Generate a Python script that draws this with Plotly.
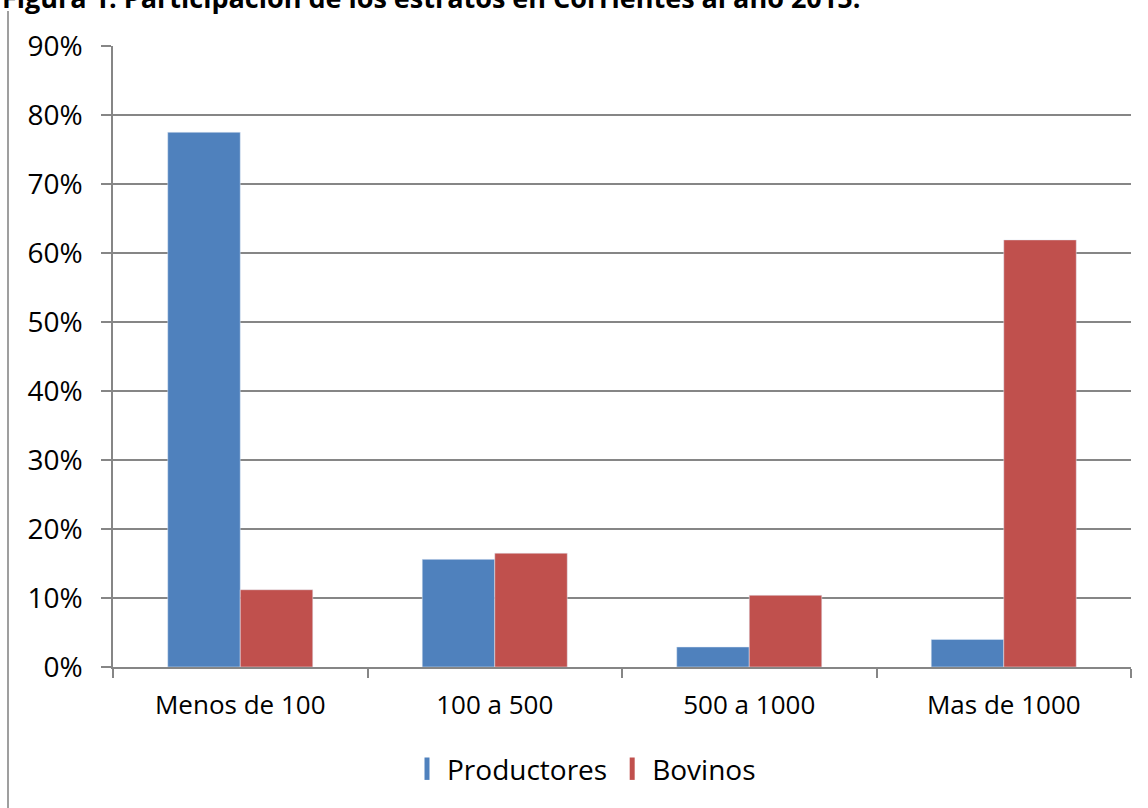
import plotly.graph_objects as go

categories = ["Menos de 100", "100 a 500", "500 a 1000", "Mas de 1000"]
productores = [0.775, 0.156, 0.029, 0.040]
bovinos = [0.112, 0.165, 0.104, 0.619]
series_names = ["Productores", "Bovinos"]
colors = ["#4F81BD", "#C0504D"]
title_text = "Figura 1. Participación de los estratos en Corrientes al año 2015."

W, H = 1148, 808
L, R, T, B = 113, 17, 46, 141
ph = H - T - B
pw = W - L - R

FONT = "Open Sans"
fig = go.Figure()
for name, vals, col in zip(series_names, [productores, bovinos], colors):
    fig.add_trace(go.Bar(x=categories, y=vals, name=name, marker_color=col,
                         showlegend=False, legendgroup=name))
    fig.add_trace(go.Scatter(x=[None], y=[None], mode="markers", name=name,
                             legendgroup=name,
                             marker=dict(symbol="line-ns", size=18,
                                         line=dict(color=col, width=6))))

grid = "#868686"
fig.update_layout(
    width=W, height=H,
    margin=dict(l=L, r=R, t=T, b=B, autoexpand=False),
    paper_bgcolor="white", plot_bgcolor="white",
    barmode="group", bargap=0.43, bargroupgap=0,
    font=dict(family=FONT, size=26, color="black"),
    legend=dict(orientation="h", x=(584 - L) / pw, xanchor="center",
                y=(667 - 769) / ph, yanchor="middle",
                font=dict(size=28), itemwidth=30, tracegroupgap=0),
    xaxis=dict(showline=True, linecolor=grid, linewidth=1.5,
               ticks="outside", tickson="boundaries", ticklen=9,
               tickcolor=grid, tickwidth=1.5, showgrid=False,
               tickfont=dict(size=26), ticklabelstandoff=14),
    yaxis=dict(range=[0, 0.9], dtick=0.1, tickformat=".0%",
               showline=True, linecolor=grid, linewidth=1.5,
               ticks="outside", ticklen=10, tickcolor=grid, tickwidth=1.5,
               showgrid=True, gridcolor=grid, gridwidth=1.5,
               zeroline=False, tickfont=dict(size=28), ticklabelstandoff=13),
    annotations=[dict(text="<b>" + title_text + "</b>",
                      xref="paper", yref="paper",
                      x=(0 - L) / pw, y=(667 + 3) / ph,
                      xanchor="left", yanchor="middle", showarrow=False,
                      font=dict(size=27, family=FONT))],
    shapes=[dict(type="line", xref="paper", yref="paper",
                 x0=(8 - L) / pw, x1=(8 - L) / pw,
                 y0=(667 - 11) / ph, y1=(667 - 815) / ph,
                 line=dict(color="#7f7f7f", width=1.5))],
)
fig.write_html("out.html", config={"displayModeBar": False},
               post_script="document.body.style.margin='0';")
